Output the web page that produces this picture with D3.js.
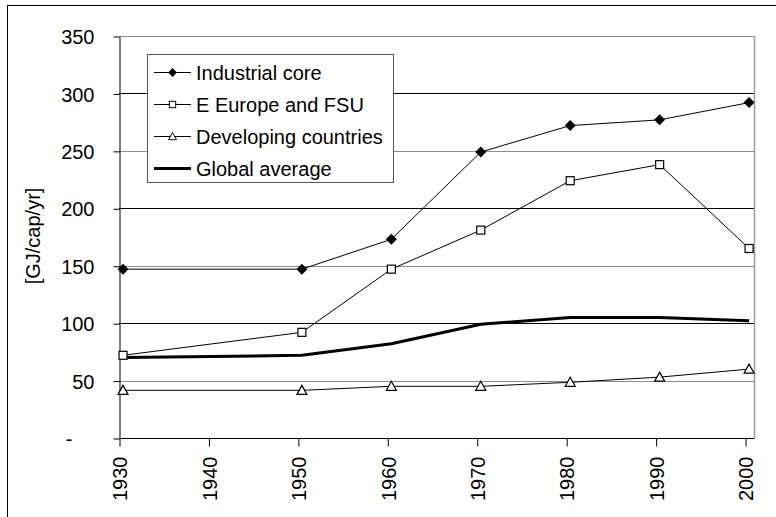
<!DOCTYPE html>
<html>
<head>
<meta charset="utf-8">
<script src="https://cdn.jsdelivr.net/npm/d3@7"></script>
<style>
  body { margin: 0; background: #fff; }
  svg text { font-family: "Liberation Sans", Arial, sans-serif; fill: #000; }
</style>
</head>
<body>
<svg id="chart" width="776" height="517"></svg>
<script>
// Data
const years = [1930, 1950, 1960, 1970, 1980, 1990, 2000];
const industrialCore = [147, 147, 173, 249, 272, 277, 292];
const eEuropeFSU = [72, 92, 147, 181, 224, 238, 165];
const developing = [41.5, 41.5, 45, 45, 48.5, 53, 60];
const globalAvg = [70, 72, 82, 99, 105, 105, 102];

const xTicks = [1930, 1940, 1950, 1960, 1970, 1980, 1990, 2000];
const yTicks = [0, 50, 100, 150, 200, 250, 300, 350];

const series = [
    { name: "Industrial core", values: industrialCore, marker: "diamond", width: 1 },
    { name: "E Europe and FSU", values: eEuropeFSU, marker: "square", width: 1 },
    { name: "Developing countries", values: developing, marker: "triangle", width: 1 },
    { name: "Global average", values: globalAvg, marker: null, width: 3 }
];

const svg = d3.select("#chart");
const plotLeft = 119, plotRight = 754, plotTop = 36, plotBottom = 438;

// points sit a little right of the year tick, like the original
const pointShift = 0.45;

const x = d3.scaleLinear().domain([1930, 2001]).range([plotLeft, plotRight]);
const y = d3.scaleLinear().domain([0, 350]).range([plotBottom, plotTop]);

// outer frame
svg.append("rect")
    .attr("x", 7.5).attr("y", 5.5)
    .attr("width", 800).attr("height", 600)
    .attr("fill", "none").attr("stroke", "#000").attr("stroke-width", 1);

// gridlines (alternating tone as in the picture)
svg.append("g")
    .selectAll("line")
    .data(yTicks.filter(d => d > 0))
    .enter()
    .append("line")
    .attr("x1", plotLeft).attr("x2", plotRight)
    .attr("y1", d => Math.round(y(d)) + 0.5)
    .attr("y2", d => Math.round(y(d)) + 0.5)
    .attr("stroke", d => d % 100 === 0 ? "#000" : "#8c8c8c")
    .attr("stroke-width", 1);

// right plot border
svg.append("line")
    .attr("x1", plotRight + 0.5).attr("x2", plotRight + 0.5)
    .attr("y1", y(350)).attr("y2", y(0))
    .attr("stroke", "#9a9a9a").attr("stroke-width", 1.5);

// y axis
const yAxis = d3.axisLeft(y)
    .tickValues(yTicks)
    .tickSize(6)
    .tickSizeOuter(0)
    .tickPadding(19)
    .tickFormat(d => d === 0 ? "-" : d);
const gy = svg.append("g")
    .attr("transform", `translate(${plotLeft + 0.5},0.5)`)
    .call(yAxis);
gy.select(".domain").attr("stroke", "#000");
gy.selectAll(".tick line").attr("stroke", "#000");
gy.selectAll(".tick text")
    .style("font-size", "20px")
    .attr("fill", "#000")
    .attr("dy", "0.36em")
    .filter(d => d === 0)
    .attr("x", -47);

// x axis
const xAxis = d3.axisBottom(x)
    .tickValues(xTicks)
    .tickSize(8)
    .tickSizeOuter(0)
    .tickFormat(d => d);
const gx = svg.append("g")
    .attr("transform", `translate(0.5,${plotBottom + 0.5})`)
    .call(xAxis);
gx.select(".domain").attr("stroke", "#000").attr("d", `M${plotLeft},0H${plotRight}`);
gx.selectAll(".tick line").attr("stroke", "#000");
gx.selectAll(".tick text")
    .style("font-size", "20px")
    .attr("fill", "#000")
    .attr("transform", "rotate(-90)")
    .attr("text-anchor", "end")
    .attr("x", -18)
    .attr("y", 0)
    .attr("dy", "0.36em");

// y title
svg.append("text")
    .attr("transform", "translate(33,236) rotate(-90)")
    .attr("text-anchor", "middle")
    .attr("dy", "0.36em")
    .style("font-size", "20px")
    .text("[GJ/cap/yr]");

// markers
const drawMarker = (sel, type) => {
    if (type === "diamond") {
        sel.append("path").attr("d", "M0,-5.5L5.5,0L0,5.5L-5.5,0Z").attr("fill", "#000");
    } else if (type === "square") {
        sel.append("rect").attr("x", -4).attr("y", -4).attr("width", 8).attr("height", 8)
            .attr("fill", "#fff").attr("stroke", "#000").attr("stroke-width", 1.2);
    } else if (type === "triangle") {
        sel.append("path").attr("d", "M0,-5L5,4L-5,4Z")
            .attr("fill", "#fff").attr("stroke", "#000").attr("stroke-width", 1.2);
    }
};

const line = d3.line()
    .x((d, i) => x(years[i] + pointShift))
    .y(d => y(d));

series.forEach(s => {
    svg.append("path")
        .datum(s.values)
        .attr("d", line)
        .attr("fill", "none")
        .attr("stroke", "#000")
        .attr("stroke-width", s.width)
        .attr("stroke-linejoin", "round");
});

series.forEach(s => {
    if (!s.marker) return;
    svg.append("g")
        .selectAll("g")
        .data(s.values)
        .enter()
        .append("g")
        .attr("transform", (d, i) => `translate(${x(years[i] + pointShift)},${y(d)})`)
        .each(function() { drawMarker(d3.select(this), s.marker); });
});

// legend
const legend = svg.append("g");
legend.append("rect")
    .attr("x", 147.5).attr("y", 54.5)
    .attr("width", 246).attr("height", 128)
    .attr("fill", "#fff").attr("stroke", "#555").attr("stroke-width", 1);

const rows = legend.selectAll("g.row")
    .data(series)
    .enter()
    .append("g")
    .attr("class", "row")
    .attr("transform", (d, i) => `translate(0,${72.5 + i * 32})`);
rows.append("line")
    .attr("x1", 154).attr("x2", 191)
    .attr("y1", 0).attr("y2", 0)
    .attr("stroke", "#000")
    .attr("stroke-width", d => d.width);
rows.append("g")
    .attr("transform", "translate(172.5,0) scale(0.8)")
    .each(function(d) { if (d.marker) drawMarker(d3.select(this), d.marker); });
rows.append("text")
    .attr("x", 196)
    .attr("y", 0)
    .attr("dy", "0.36em")
    .style("font-size", "20px")
    .text(d => d.name);
</script>
</body>
</html>
